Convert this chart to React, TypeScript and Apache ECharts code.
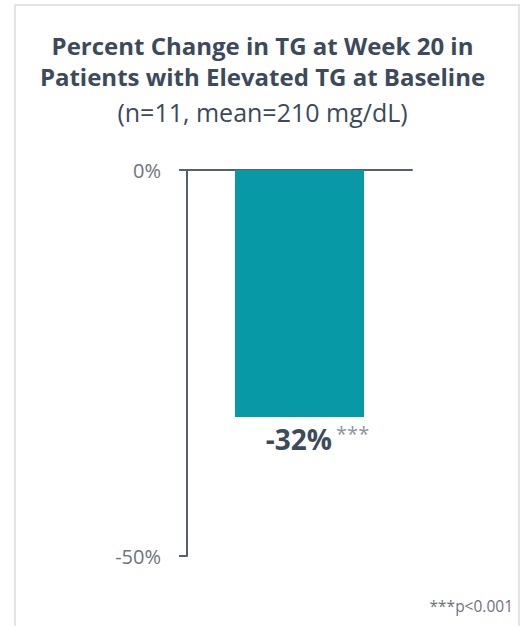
import React, { useEffect, useRef } from "react";
import * as echarts from "echarts";

const categories = ["Week 20"];
const percentChange = [-32];
const significance = "***";
const yTickLabels: Record<number, string> = { 0: "0%", [-50]: "-50%" };
const titleLines = ["Percent Change in TG at Week 20 in", "Patients with Elevated TG at Baseline"];
const subtitle = "(n=11, mean=210 mg/dL)";
const footnote = "***p<0.001";

const AXIS_COLOR = "#536173";
const TEXT_DARK = "#3c4a5c";
const TEXT_GRAY = "#6e737a";
const BAR_COLOR = "#0899a6";
const FONT = "'Open Sans', 'Noto Sans', sans-serif";

export default function App() {
  const ref = useRef<HTMLDivElement>(null);

  useEffect(() => {
    if (!ref.current) return;
    const chart = echarts.init(ref.current, null, { renderer: "svg" });
    chart.setOption({
      animation: false,
      backgroundColor: "#ffffff",
      textStyle: { fontFamily: FONT },
      title: [
        {
          text: titleLines.join("\n"),
          left: "center",
          top: 25,
          textStyle: {
            fontFamily: FONT,
            fontSize: 24,
            fontWeight: "bold",
            color: TEXT_DARK,
            lineHeight: 31,
          },
        },
        {
          text: subtitle,
          left: "center",
          top: 94,
          textStyle: {
            fontFamily: FONT,
            fontSize: 25,
            fontWeight: "normal",
            color: TEXT_DARK,
          },
        },
      ],
      grid: { left: 187, right: 113, top: 170, bottom: 70, containLabel: false },
      xAxis: {
        type: "category",
        data: categories,
        axisLine: { show: true, onZero: true, lineStyle: { color: AXIS_COLOR, width: 2 } },
        axisTick: { show: false },
        axisLabel: { show: false },
      },
      yAxis: {
        type: "value",
        min: -50,
        max: 0,
        interval: 50,
        splitLine: { show: false },
        axisLine: { show: true, lineStyle: { color: AXIS_COLOR, width: 2 } },
        axisTick: { show: true, inside: false, length: 8, lineStyle: { color: AXIS_COLOR, width: 2 } },
        axisLabel: {
          margin: 26,
          fontSize: 20,
          color: TEXT_GRAY,
          fontFamily: FONT,
          formatter: (v: number) => yTickLabels[v] ?? "",
        },
      },
      series: [
        {
          type: "bar",
          data: percentChange,
          barWidth: 129,
          itemStyle: { color: BAR_COLOR },
          label: {
            show: true,
            position: "bottom",
            distance: 6,
            offset: [18, 0],
            formatter: (p: any) => `{v|${p.value}%}{s|${significance}}`,
            rich: {
              v: { fontSize: 28, fontWeight: "bold", color: TEXT_DARK, fontFamily: FONT, lineHeight: 32 },
              s: { fontSize: 20, color: "#8f949b", fontFamily: FONT, verticalAlign: "top", padding: [0, 0, 6, 4] },
            },
          },
        },
      ],
      graphic: [
        {
          type: "rect",
          shape: { x: 15, y: 5, width: 504, height: 660 },
          style: { fill: "none", stroke: "#e2e4e6", lineWidth: 2 },
          silent: true,
        },
        {
          type: "text",
          right: 12,
          top: 598,
          style: { text: footnote, fontSize: 15.5, fill: TEXT_GRAY, fontFamily: FONT },
        },
      ],
    });
    return () => chart.dispose();
  }, []);

  return (
    <div
      ref={ref}
      style={{ position: "fixed", left: 0, top: 0, width: 525, height: 626 }}
    />
  );
}
